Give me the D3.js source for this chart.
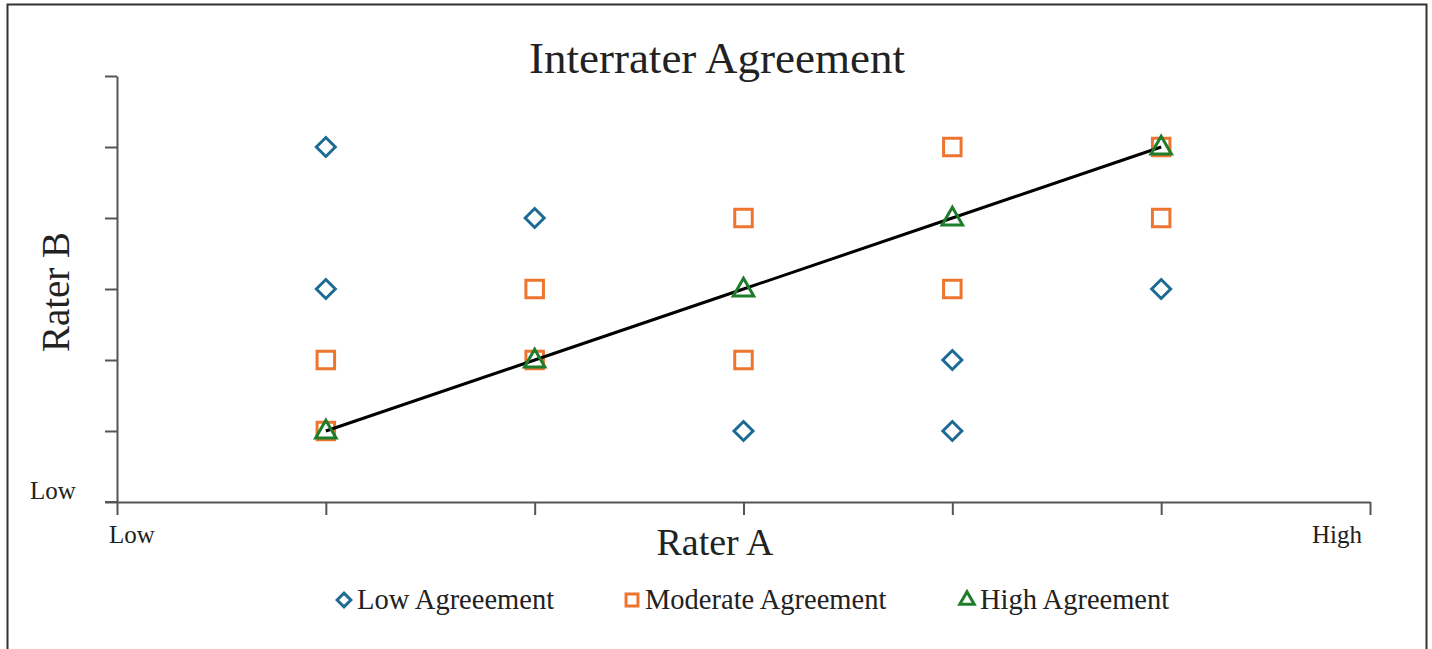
<!DOCTYPE html>
<html><head><meta charset="utf-8">
<script src="https://cdn.jsdelivr.net/npm/d3@7"></script>
<style>
html,body{margin:0;padding:0;background:#fff;}
svg{display:block;}
text{font-family:"Liberation Serif","DejaVu Serif",serif;fill:#222;}
</style></head>
<body>
<svg id="c" width="1432" height="649"></svg>
<script>
const title = "Interrater Agreement";
const xLabel = "Rater A";
const yLabel = "Rater B";
const lowLabels = ["Low", "High"];
const seriesNames = ["Low Agreeement", "Moderate Agreement", "High Agreement"];
const lowX = [1, 1, 2, 3, 4, 4, 5];
const lowY = [5, 3, 4, 1, 2, 1, 3];
const modX = [1, 1, 2, 2, 3, 3, 4, 4, 5, 5];
const modY = [2, 1, 3, 2, 4, 2, 5, 3, 5, 4];
const highX = [1, 2, 3, 4, 5];
const highY = [1, 2, 3, 4, 5];
const xTicks = [0, 1, 2, 3, 4, 5, 6];
const yTicks = [0, 1, 2, 3, 4, 5, 6];

const svg = d3.select("#c");
svg.append("rect").attr("x", 7.5).attr("y", 4.5).attr("width", 1419).attr("height", 660)
  .attr("fill", "none").attr("stroke", "#333").attr("stroke-width", 2);

const x = d3.scaleLinear().domain([0, 6]).range([117, 1370]);
const y = d3.scaleLinear().domain([0, 6]).range([502, 76]);

const axisColor = "#555";
const xAxis = svg.append("g").attr("transform", "translate(0,502)")
  .call(d3.axisBottom(x).tickValues(xTicks).tickSize(13).tickSizeOuter(0).tickFormat(""));
const yAxis = svg.append("g").attr("transform", "translate(117,0)")
  .call(d3.axisLeft(y).tickValues(yTicks).tickSize(12).tickSizeOuter(0).tickFormat(""));
[xAxis, yAxis].forEach(g => {
  g.select(".domain").attr("stroke", axisColor).attr("stroke-width", 2);
  g.selectAll(".tick line").attr("stroke", axisColor).attr("stroke-width", 2);
});
svg.append("line").attr("x1", 105).attr("x2", 117).attr("y1", y(0)).attr("y2", y(0))
  .attr("stroke", axisColor).attr("stroke-width", 2);

svg.append("text").attr("x", 717).attr("y", 73).attr("text-anchor", "middle")
  .attr("font-size", 45).text(title);
svg.append("text").attr("x", 715).attr("y", 555).attr("text-anchor", "middle")
  .attr("font-size", 38).text(xLabel);
svg.append("text").attr("transform", "translate(69,292) rotate(-90)").attr("text-anchor", "middle")
  .attr("font-size", 39).text(yLabel);
svg.append("text").attr("x", 30).attr("y", 499).attr("font-size", 25).text(lowLabels[0]);
svg.append("text").attr("x", x(0) - 8).attr("y", 543).attr("font-size", 25).text(lowLabels[0]);
svg.append("text").attr("x", x(6) - 8).attr("y", 543).attr("text-anchor", "end").attr("font-size", 25).text(lowLabels[1]);

const colors = ["#1d6b94", "#ed7530", "#1e7d2a"];
const sym = [d3.symbolDiamond2, d3.symbolSquare2, d3.symbolTriangle2];
const sizes = [230, 390, 300];

const line = d3.line().x(d => x(d[0])).y(d => y(d[1]));
const plot = svg.append("g");
const modG = plot.append("g");
const lowG = plot.append("g");
modX.forEach((v, i) => {
  modG.append("path").attr("d", d3.symbol(sym[1], sizes[1])())
    .attr("transform", `translate(${x(v)},${y(modY[i])})`)
    .attr("fill", "none").attr("stroke", colors[1]).attr("stroke-width", 3);
});
lowX.forEach((v, i) => {
  lowG.append("path").attr("d", d3.symbol(sym[0], sizes[0])())
    .attr("transform", `translate(${x(v)},${y(lowY[i])})`)
    .attr("fill", "none").attr("stroke", colors[0]).attr("stroke-width", 3);
});
plot.append("path").datum(highX.map((v, i) => [v, highY[i]])).attr("d", line)
  .attr("fill", "none").attr("stroke", "#000").attr("stroke-width", 3);
highX.forEach((v, i) => {
  plot.append("path").attr("d", d3.symbol(sym[2], sizes[2])())
    .attr("transform", `translate(${x(v)},${y(highY[i]) + 1})`)
    .attr("fill", "none").attr("stroke", colors[2]).attr("stroke-width", 3);
});

const legX = [344, 632, 967];
const leg = svg.append("g");
seriesNames.forEach((n, i) => {
  leg.append("path").attr("d", d3.symbol(sym[i], [120, 180, 150][i])())
    .attr("transform", `translate(${legX[i]},${600})`)
    .attr("fill", "none").attr("stroke", colors[i]).attr("stroke-width", 3);
  leg.append("text").attr("x", legX[i] + 13).attr("y", 609).attr("font-size", 28.5).text(n);
});
</script>
</body></html>
